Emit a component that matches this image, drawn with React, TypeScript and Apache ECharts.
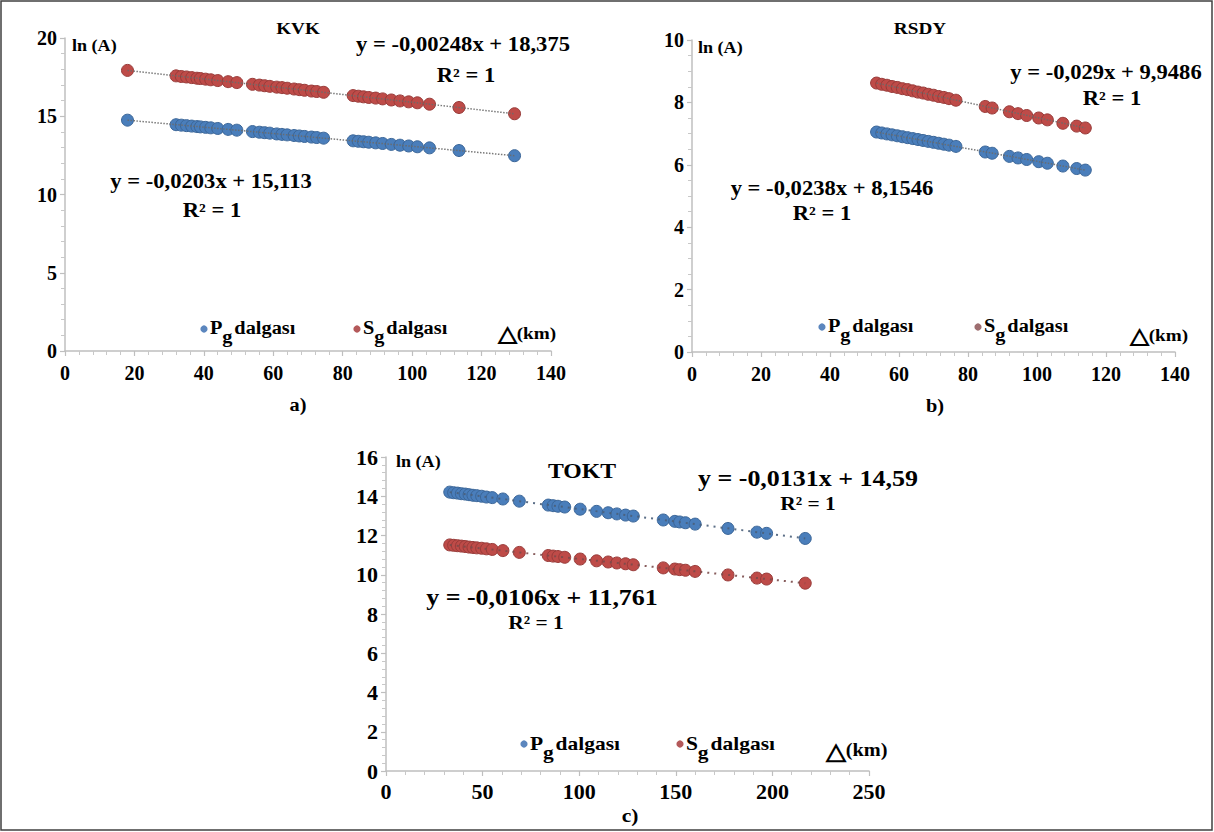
import React, { useEffect, useRef } from 'react';
import * as echarts from 'echarts';

const FONT = '"Liberation Serif", "Times New Roman", serif';
const SX = 1.13;

// Panel a) KVK
const kvkDistance = [18, 32, 33.5, 35, 36.5, 38, 39, 40.5, 42, 44, 47, 49.5, 54, 56, 57.5, 59, 61, 62.5, 64, 66, 67.5, 69, 71, 72.5, 74.5, 83, 84.5, 86, 87.5, 89.5, 91.5, 94, 96.5, 99, 101.5, 105, 113.5, 129.5];
const kvkPg = [14.75, 14.46, 14.43, 14.40, 14.37, 14.34, 14.32, 14.29, 14.26, 14.22, 14.16, 14.11, 14.02, 13.98, 13.95, 13.92, 13.87, 13.84, 13.81, 13.77, 13.74, 13.71, 13.67, 13.64, 13.60, 13.43, 13.40, 13.37, 13.34, 13.30, 13.26, 13.20, 13.15, 13.10, 13.05, 12.98, 12.81, 12.48];
const kvkSg = [17.93, 17.58, 17.54, 17.51, 17.47, 17.43, 17.41, 17.37, 17.33, 17.28, 17.21, 17.15, 17.04, 16.99, 16.95, 16.91, 16.86, 16.83, 16.79, 16.74, 16.70, 16.66, 16.61, 16.58, 16.53, 16.32, 16.28, 16.24, 16.20, 16.16, 16.11, 16.04, 15.98, 15.92, 15.86, 15.77, 15.56, 15.16];

// Panel b) RSDY
const rsdyDistance = [53.5, 55, 56.5, 58, 59.5, 61, 62.5, 64, 65.5, 67, 68.5, 70, 71.5, 73, 74.5, 76.5, 85, 87, 92, 94.5, 97, 100.5, 103, 107.5, 111.5, 114];
const rsdyPg = [7.05, 7.02, 6.99, 6.96, 6.93, 6.90, 6.87, 6.84, 6.81, 6.78, 6.75, 6.72, 6.69, 6.66, 6.63, 6.59, 6.41, 6.37, 6.27, 6.22, 6.17, 6.10, 6.05, 5.96, 5.88, 5.83];
const rsdySg = [8.62, 8.58, 8.55, 8.51, 8.48, 8.44, 8.41, 8.37, 8.33, 8.30, 8.26, 8.23, 8.19, 8.16, 8.12, 8.07, 7.87, 7.82, 7.70, 7.64, 7.58, 7.50, 7.44, 7.33, 7.24, 7.18];

// Panel c) TOKT
const toktDistance = [33, 35, 37, 39, 41, 43, 45, 47, 49.5, 52, 55, 60.5, 69, 84, 86.5, 89, 92.5, 100.5, 109, 115, 119.5, 124, 128, 143.5, 149.5, 152, 155, 160, 177, 192, 197, 217];
const toktPg = [14.21, 14.18, 14.16, 14.13, 14.11, 14.08, 14.05, 14.03, 14.00, 13.96, 13.93, 13.86, 13.75, 13.55, 13.52, 13.49, 13.45, 13.34, 13.23, 13.16, 13.10, 13.04, 12.99, 12.79, 12.72, 12.69, 12.65, 12.58, 12.36, 12.17, 12.11, 11.85];
const toktSg = [11.52, 11.50, 11.48, 11.46, 11.44, 11.41, 11.39, 11.37, 11.35, 11.32, 11.29, 11.23, 11.14, 10.98, 10.95, 10.93, 10.89, 10.80, 10.71, 10.65, 10.60, 10.56, 10.51, 10.35, 10.29, 10.26, 10.23, 10.17, 9.99, 9.83, 9.78, 9.57];

const BLUE = '#4a7ebb';
const BLUE_B = '#3b6698';
const RED = '#be4b48';
const RED_B = '#983b39';

const pairs = (xs: number[], ys: number[]) => xs.map((x, i) => [x, ys[i]]);
const ends = (xs: number[], ys: number[]) => [[xs[0], ys[0]], [xs[xs.length - 1], ys[ys.length - 1]]];

function axis(idx: number, min: number, max: number, interval: number, minorSplit: number, fontSize: number, margin: number) {
  return {
    type: 'value',
    gridIndex: idx,
    min,
    max,
    interval,
    axisLine: { show: true, onZero: false, lineStyle: { color: '#bfbfbf', width: 1.5 } },
    axisTick: { show: true, length: 5, lineStyle: { color: '#bfbfbf', width: 1.2 } },
    minorTick: { show: true, splitNumber: minorSplit, length: 4, lineStyle: { color: '#c8c8c8', width: 1 } },
    splitLine: { show: false },
    minorSplitLine: { show: false },
    axisLabel: { color: '#000', fontFamily: FONT, fontWeight: 'bold', fontSize, margin },
  };
}

function scatter(idx: number, xs: number[], ys: number[], color: string, border: string, size: number) {
  return {
    type: 'scatter',
    xAxisIndex: idx,
    yAxisIndex: idx,
    data: pairs(xs, ys),
    symbolSize: size,
    itemStyle: { color, borderColor: border, borderWidth: 1, opacity: 1 },
    z: 2,
    silent: true,
  };
}

function trend(idx: number, xs: number[], ys: number[], dash: any, width: number, color: string) {
  return {
    type: 'line',
    xAxisIndex: idx,
    yAxisIndex: idx,
    data: ends(xs, ys),
    symbol: 'none',
    lineStyle: { color, width, type: dash, opacity: 0.9 },
    z: 3,
    silent: true,
  };
}

function t(x: number, y: number, text: string, size: number, align = 'left') {
  return {
    type: 'text',
    x,
    y,
    scaleX: SX,
    silent: true,
    style: { text, fontSize: size, fontWeight: 'bold', fontFamily: FONT, fill: '#000', align, verticalAlign: 'middle' },
  };
}

function legend(x: number, y: number, letter: string, color: string, size: number) {
  const w = size * (letter === 'P' ? 0.6 : 0.55) * SX;
  const gw = size * 0.5 * SX;
  return [
    { type: 'circle', silent: true, shape: { cx: x, cy: y + 1, r: 3.6 }, style: { fill: color } },
    t(x + 6, y, letter, size),
    t(x + 6 + w, y + 9, 'g', size),
    t(x + 6 + w + gw + 2, y, 'dalgası', size),
  ];
}

function delta(x: number, y: number, size: number) {
  return [
    t(x, y + 1, '△', size * 1.3),
    t(x + size * 1.1, y, '(km)', size),
  ];
}

export default function App() {
  const ref = useRef<HTMLDivElement>(null);
  useEffect(() => {
    if (!ref.current) return;
    const chart = echarts.init(ref.current, undefined, { renderer: 'svg' });
    const option: any = {
      animation: false,
      backgroundColor: '#ffffff',
      grid: [
        { left: 65, top: 38, width: 486, height: 313 },
        { left: 692, top: 40, width: 483, height: 312 },
        { left: 386, top: 457, width: 483, height: 314 },
      ],
      xAxis: [
        axis(0, 0, 140, 20, 5, 20, 12),
        axis(1, 0, 140, 20, 5, 20, 12),
        axis(2, 0, 250, 50, 5, 22, 9),
      ],
      yAxis: [
        axis(0, 0, 20, 5, 5, 20, 8),
        axis(1, 0, 10, 2, 4, 20, 8),
        axis(2, 0, 16, 2, 5, 22, 8),
      ],
      series: [
        scatter(0, kvkDistance, kvkPg, BLUE, BLUE_B, 12),
        scatter(0, kvkDistance, kvkSg, RED, RED_B, 12),
        trend(0, kvkDistance, kvkPg, 'dotted', 1.5, '#6a6a6a'),
        trend(0, kvkDistance, kvkSg, 'dotted', 1.5, '#6a6a6a'),
        scatter(1, rsdyDistance, rsdyPg, BLUE, BLUE_B, 12),
        scatter(1, rsdyDistance, rsdySg, RED, RED_B, 12),
        trend(1, rsdyDistance, rsdyPg, 'dotted', 1.5, '#6a6a6a'),
        trend(1, rsdyDistance, rsdySg, 'dotted', 1.5, '#6a6a6a'),
        scatter(2, toktDistance, toktPg, BLUE, BLUE_B, 12),
        scatter(2, toktDistance, toktSg, RED, RED_B, 12),
        trend(2, toktDistance, toktPg, [2, 5], 2, '#4a5f7a'),
        trend(2, toktDistance, toktSg, [2, 5], 2, '#7a4a4a'),
      ],
      graphic: [
        { type: 'rect', silent: true, shape: { x: 1, y: 1, width: 1211, height: 829 }, style: { fill: 'none', stroke: '#404040', lineWidth: 1.5 } },
        // panel a
        t(298, 28, 'KVK', 17, 'center'),
        t(72, 46, 'ln (A)', 16),
        t(463, 44, 'y = -0,00248x + 18,375', 20, 'center'),
        t(466, 75, 'R² = 1', 20, 'center'),
        t(211, 181, 'y = -0,0203x + 15,113', 20, 'center'),
        t(212, 210, 'R² = 1', 20, 'center'),
        ...legend(204, 328, 'P', '#5b86be', 18),
        ...legend(357, 328, 'S', '#b4595a', 18),
        ...delta(498, 333, 17),
        t(298, 405, 'a)', 18, 'center'),
        // panel b
        t(920, 28, 'RSDY', 17, 'center'),
        t(698, 48, 'ln (A)', 16),
        t(1106, 72, 'y = -0,029x + 9,9486', 20, 'center'),
        t(1112, 98, 'R² = 1', 20, 'center'),
        t(832, 188, 'y = -0,0238x + 8,1546', 20, 'center'),
        t(822, 213, 'R² = 1', 20, 'center'),
        ...legend(822, 326, 'P', '#5b86be', 18),
        ...legend(978, 326, 'S', '#9e6e70', 18),
        ...delta(1130, 335, 17),
        t(935, 406, 'b)', 18, 'center'),
        // panel c
        t(582, 471, 'TOKT', 21, 'center'),
        t(396, 462, 'ln (A)', 16),
        t(808, 478, 'y = -0,0131x + 14,59', 23, 'center'),
        t(808, 503, 'R² = 1', 19, 'center'),
        t(542, 597, 'y = -0,0106x + 11,761', 23, 'center'),
        t(536, 622, 'R² = 1', 19, 'center'),
        ...legend(524, 743, 'P', '#5b86be', 19),
        ...legend(680, 743, 'S', '#b4595a', 19),
        ...delta(826, 750, 18),
        t(630, 815, 'c)', 19, 'center'),
      ],
    };
    chart.setOption(option);
    return () => chart.dispose();
  }, []);
  return <div ref={ref} style={{ position: 'absolute', left: 0, top: 0, width: 1214, height: 832 }} />;
}
